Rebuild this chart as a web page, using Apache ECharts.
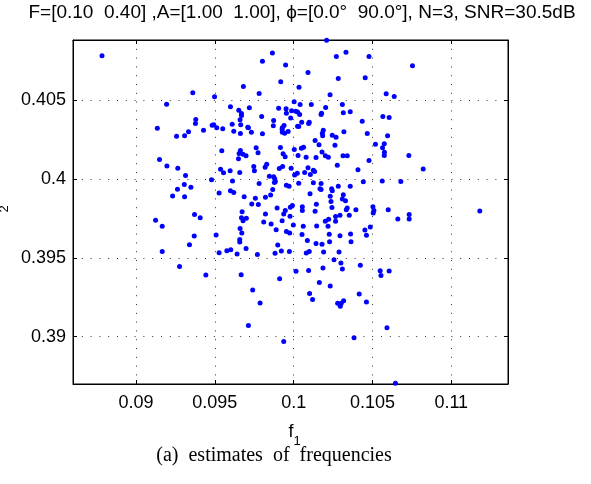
<!DOCTYPE html>
<html><head><meta charset="utf-8">
<script src="https://cdn.jsdelivr.net/npm/echarts@6/dist/echarts.min.js"></script>
<style>html,body{margin:0;padding:0;background:#fff}#c{width:591px;height:484px}</style>
</head><body><div id="c"></div>
<script>
// estimates of f1 (x) and f2 (y)
const f1 = [
0.08784,0.09360,0.09498,0.09194,0.09379,0.09377,0.09135,0.09483,0.09493,0.09512,
0.09550,0.09428,0.09333,0.09257,0.09308,0.09544,0.09149,0.09196,0.09265,0.09536,
0.09555,0.09314,0.09479,0.09306,0.09348,0.09263,0.09527,0.09232,0.09308,
0.09371,0.09407,0.09124,0.09166,0.09369,0.09508,0.09339,0.09166,0.09527,0.09276,0.09443,
0.09673,0.09669,0.09700,0.09679,0.09660,0.09671,0.09658,0.09658,0.09576,0.09601,
0.09641,0.09698,0.09770,0.09667,0.09740,0.09787,0.09713,0.09937,
0.09821,0.09810,0.09857,0.09889,0.09899,0.09882,0.09922,0.09973,0.09911,0.09927,
0.09937,0.09947,0.09977,0.09954,0.09975,0.09998,0.10015,
0.10055,0.10061,0.10053,0.10087,0.10080,0.10099,0.10136,0.10146,0.10142,0.10180,
0.10190,0.10095,0.10186,0.10163,0.10101,0.10120,
0.10201,0.10222,0.10218,0.10226,0.10228,0.10266,0.10294,0.10266,0.10294,0.10256,
0.10288,0.10300,0.10309,0.10232,0.10279,0.10302,0.10317,0.10296,
0.10334,0.10353,0.10395,0.10361,0.10364,0.10452,0.10462,0.10423,0.10416,0.10462,0.10383,0.10486,
0.10600,0.10505,0.10509,0.10661,0.10733,0.10733,0.11181,0.10549,0.10606,0.10554,0.10592,0.10646,
0.10209,0.09865,0.09802,0.09949,0.10271,0.10332,0.10478,0.10091,0.10283,0.10454,
0.09918,0.09681,0.10034,0.09781,0.10231,0.10003,0.10041,0.10112,0.10309,
0.09599,0.09719,0.09905,0.09952,0.10203,0.09652,0.09669,0.09669,0.09987,0.10013,
0.10025,0.10038,0.09954,0.10177,0.10174,0.10315,0.10359,
0.09797,0.09981,0.09660,0.09873,0.10051,0.10099,0.10095,0.10435,
0.09610,0.09664,0.09871,0.09939,0.10025,0.10032,0.09709,0.09713,0.09928,0.09927,
0.09620,0.09732,0.09928,0.09943,0.09965,0.10188,0.10182,0.10319,0.09662,0.09802,0.10467,
0.10245,0.10269,0.10184,0.10136,0.10161,0.10262,
0.09916,0.09762,0.10063,0.10049,0.10004,0.09662,0.10180,0.09774,0.09654,0.09679,0.09698,
0.09933,0.09946,0.10028,0.10079,0.10142,0.10201,0.10220,0.10313,0.10340,
0.09650,0.10478,0.09829,0.09819,0.09747,0.09751,0.09930,0.09909,0.09984,0.10091,0.10277,
0.09597,0.09658,0.10125,0.10133,0.10106,0.10070,0.10023,0.10006,0.09846,0.09873,0.09880,0.10408,
0.09612,0.09884,0.09878,0.10032,0.09781,0.10125,0.10174,0.09954,0.09971,0.10283,0.10359,0.10442,
0.10167,0.10174,0.10241,0.10245,0.09867,0.09599,0.09620,0.10104,0.10315,
0.09686,0.09757,0.09821,0.09854,0.10232,0.10309,0.10329,0.10237,0.10144,
0.09734,0.09776,0.09992,0.09979,0.09895,0.10055,0.10243,0.10340,
0.10754,0.10587,0.10638,0.10566,0.10606,0.10596,0.10519,0.10575,0.10564,0.10576,0.10575,0.10731,0.10822,0.10562,0.10680,0.10503
];
const f2 = [
0.40780,0.40546,0.40520,0.40473,0.40376,0.40351,0.40321,0.40340,0.40343,0.40324,
0.40317,0.40308,0.40298,0.40270,0.40273,0.40178,0.40122,0.40082,0.40067,0.40061,
0.40038,0.40021,0.39994,0.39964,0.39947,0.39934,0.39911,0.39892,0.39886,
0.39774,0.39753,0.39737,0.39699,0.39638,0.39645,0.39583,0.39539,0.39532,0.39445,0.39391,
0.39791,0.39753,0.39750,0.39735,0.39685,0.39657,0.39615,0.39600,0.39545,0.39551,
0.39524,0.39558,0.39520,0.39393,0.39296,0.39213,0.39071,0.38970,
0.39778,0.39727,0.39714,0.39678,0.39581,0.39528,0.39543,0.39539,0.39367,0.39735,
0.39778,0.39799,0.39763,0.39666,0.39657,0.39708,0.39414,
0.39799,0.39699,0.39647,0.39609,0.39530,0.39539,0.39794,0.39702,0.39591,0.39585,
0.39537,0.39420,0.39435,0.39344,0.39274,0.39236,
0.39731,0.39744,0.39699,0.39649,0.39602,0.39761,0.39769,0.39731,0.39640,0.39488,
0.39537,0.39467,0.39429,0.39321,0.39211,0.39211,0.39228,0.39192,
0.39805,0.39769,0.39805,0.39651,0.39602,0.39676,0.39642,0.39452,0.39270,0.39220,0.38993,0.39695,
0.39805,0.39784,0.39799,0.39746,0.39774,0.39746,0.39797,0.39418,0.39416,0.39388,0.39057,0.38705,
0.40879,0.40797,0.40746,0.40721,0.40776,0.40803,0.40776,0.40674,0.40636,0.40641,
0.40615,0.40586,0.40581,0.40541,0.40533,0.40489,0.40471,0.40471,0.40471,
0.40457,0.40450,0.40448,0.40444,0.40452,0.40435,0.40414,0.40402,0.40431,0.40429,
0.40423,0.40408,0.40416,0.40416,0.40408,0.40419,0.40425,
0.40395,0.40385,0.40374,0.40370,0.40359,0.40359,0.40351,0.40365,
0.40346,0.40343,0.40336,0.40338,0.40334,0.40332,0.40327,0.40324,0.40324,0.40315,
0.40302,0.40296,0.40296,0.40289,0.40300,0.40308,0.40289,0.40298,0.40287,0.40286,0.40287,
0.40277,0.40264,0.40273,0.40243,0.40216,0.40213,
0.40199,0.40197,0.40201,0.40194,0.40186,0.40180,0.40171,0.40165,0.40161,0.40156,0.40146,
0.40159,0.40140,0.40148,0.40137,0.40135,0.40146,0.40137,0.40146,0.40146,
0.40127,0.40116,0.40093,0.40074,0.40078,0.40051,0.40078,0.40065,0.40067,0.40070,0.40086,
0.40051,0.40040,0.40055,0.40046,0.40027,0.40040,0.40036,0.40025,0.40017,0.40013,0.40000,0.40057,
0.39987,0.39983,0.39977,0.39972,0.39970,0.39975,0.39970,0.39959,0.39953,0.39953,0.39953,0.39981,
0.39938,0.39932,0.39938,0.39924,0.39932,0.39924,0.39913,0.39905,0.39900,
0.39886,0.39877,0.39883,0.39898,0.39890,0.39873,0.39862,0.39856,0.39839,
0.39841,0.39837,0.39831,0.39820,0.39816,0.39824,0.39818,0.39816,
0.40717,0.40539,0.40522,0.40395,0.40389,0.40273,0.40220,0.40222,0.40197,0.40169,0.40148,0.40148,0.40063,0.39987,0.39983,0.39824
];
const xTicks = [0.09, 0.095, 0.1, 0.105, 0.11];
const yTicks = [0.39, 0.395, 0.4, 0.405];
const xRange = [0.086, 0.1136];
const yRange = [0.387, 0.4088];
const titleText = 'F=[0.10  0.40] ,A=[1.00  1.00], \u03d5=[0.0\u00b0  90.0\u00b0], N=3, SNR=30.5dB';
const xName = ['f', '1'];
const yName = ['f', '2'];
const captionText = '(a)  estimates  of  frequencies';

const n = Math.min(f1.length, f2.length);
const points = [];
for (let i = 0; i < n; i++) points.push([f1[i], f2[i]]);

const FONT = '"Liberation Sans", Arial, Helvetica, sans-serif';
const gridLine = {show: true, lineStyle: {color: '#333', width: 1, type: [1, 7.8]}};

function mkAxis(range, ticks, position, main) {
  return {
    type: 'value', min: range[0], max: range[1], position: position, show: true,
    axisLine: {show: true, onZero: false, lineStyle: {color: '#000', width: 1}},
    axisTick: {show: true, inside: true, length: 4, customValues: ticks, lineStyle: {color: '#000', width: 1}},
    axisLabel: {show: main, customValues: ticks, color: '#000', fontSize: 18, fontFamily: FONT,
                margin: (position === 'left' ? 7 : 10), formatter: v => String(v)},
    splitLine: main ? gridLine : {show: false}
  };
}

const chart = echarts.init(document.getElementById('c'), null, {renderer: 'canvas'});
chart.setOption({
  animation: false,
  backgroundColor: '#fff',
  grid: {left: 73, right: 83, top: 40, bottom: 100, containLabel: false,
         show: true, borderColor: '#000', borderWidth: 1, backgroundColor: 'transparent'},
  xAxis: [mkAxis(xRange, xTicks, 'bottom', true), mkAxis(xRange, xTicks, 'top', false)],
  yAxis: [mkAxis(yRange, yTicks, 'left', true), mkAxis(yRange, yTicks, 'right', false)],
  series: [{
    type: 'scatter', data: points, symbol: 'circle', symbolSize: 5,
    xAxisIndex: 0, yAxisIndex: 0,
    itemStyle: {color: '#0000ff', opacity: 1}, silent: true, clip: false
  }],
  graphic: [
    {type: 'text', x: 302, y: 13, style: {text: titleText, fontSize: 19, fontFamily: FONT, fill: '#000', align: 'center', verticalAlign: 'middle'}},
    {type: 'text', x: 291, y: 432, style: {text: xName[0], fontSize: 18, fontFamily: FONT, fill: '#000', align: 'center', verticalAlign: 'middle'}},
    {type: 'text', x: 297, y: 441, style: {text: xName[1], fontSize: 13, fontFamily: FONT, fill: '#000', align: 'center', verticalAlign: 'middle'}},
    {type: 'text', x: -5, y: 218, rotation: Math.PI / 2, style: {text: yName[0], fontSize: 18, fontFamily: FONT, fill: '#000', align: 'center', verticalAlign: 'middle'}},
    {type: 'text', x: 4, y: 209, rotation: Math.PI / 2, style: {text: yName[1], fontSize: 13, fontFamily: FONT, fill: '#000', align: 'center', verticalAlign: 'middle'}},
    {type: 'text', x: 274, y: 456, style: {text: captionText, fontSize: 20, fontFamily: '"Liberation Serif", "Times New Roman", serif', fill: '#000', align: 'center', verticalAlign: 'middle'}}
  ]
});
</script></body></html>
